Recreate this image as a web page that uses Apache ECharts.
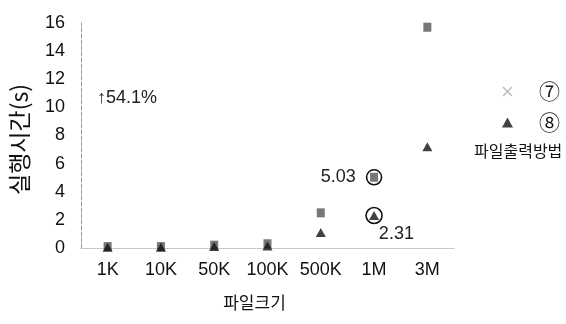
<!DOCTYPE html>
<html>
<head>
<meta charset="utf-8">
<script src="https://cdn.jsdelivr.net/npm/echarts@6/dist/echarts.min.js"></script>
<style>
  html, body { margin: 0; padding: 0; background: #fff; }
  #chart { width: 566px; height: 324px; }
</style>
</head>
<body>
<div id="chart"></div>
<script>
// File sizes on the x axis
const categories = ['1K', '10K', '50K', '100K', '500K', '1M', '3M'];
// Execution time (s) for output method ⑦
const method7 = [0.1, 0.1, 0.2, 0.3, 2.5, 5.03, 15.7];
// Execution time (s) for output method ⑧
const method8 = [0.05, 0.05, 0.1, 0.15, 1.1, 2.31, 7.2];
// Y axis range
const yMin = 0, yMax = 16, yStep = 2;

const sans = '"Liberation Sans", Arial, "Noto Sans CJK KR", sans-serif';
const narrow = '"Liberation Sans Narrow", "Liberation Sans", "Noto Sans CJK KR", sans-serif';
const kr = '"Noto Sans CJK KR", "Liberation Sans", sans-serif';

const chart = echarts.init(document.getElementById('chart'), null, { renderer: 'canvas' });

const ringStyle = { color: 'rgba(0,0,0,0)', borderColor: '#111', borderWidth: 1.6 };

chart.setOption({
  animation: false,
  backgroundColor: '#fff',
  grid: { left: 78, right: 112, top: 23, bottom: 76 },
  legend: {
    orient: 'vertical',
    left: 497,
    top: 76,
    itemWidth: 11,
    itemHeight: 10,
    itemGap: 10,
    data: [
      { name: '⑦', icon: 'path://M0,9 L1,10 L10,1 L9,0 Z M0,1 L9,10 L10,9 L1,0 Z', itemStyle: { color: '#aaa' } },
      { name: '⑧', icon: 'triangle', itemStyle: { color: '#111' } }
    ],
    textStyle: { fontFamily: kr, fontSize: 21, color: '#111', padding: [0, 0, 0, 21] }
  },
  graphic: [
    {
      type: 'text', left: 97, top: 89,
      style: { text: '↑54.1%', fontFamily: narrow, fontSize: 18, fill: '#222' }
    },
    {
      type: 'text', left: 474, top: 143,
      style: { text: '파일출력방법', fontFamily: kr, fontSize: 16, fill: '#111' }
    }
  ],
  xAxis: {
    type: 'category',
    data: categories,
    boundaryGap: true,
    name: '파일크기',
    nameLocation: 'middle',
    nameGap: 46,
    nameTextStyle: { fontFamily: kr, fontSize: 17, color: '#111', padding: [0, 26, 0, 0] },
    axisLine: { show: true, lineStyle: { color: '#bbb', type: 'dotted', width: 1 } },
    axisTick: { show: false },
    axisLabel: { interval: 0, hideOverlap: false, fontFamily: sans, fontSize: 18, color: '#111', margin: 13 },
    splitLine: { show: false }
  },
  yAxis: {
    type: 'value',
    min: yMin,
    max: yMax,
    interval: yStep,
    name: '실행시간(s)',
    nameLocation: 'middle',
    nameGap: 50,
    nameTextStyle: { fontFamily: kr, fontSize: 23, color: '#111', padding: [0, 8, 0, 0] },
    axisLine: { show: true, lineStyle: { color: '#999', type: 'dashed', width: 1 } },
    axisTick: { show: false },
    axisLabel: { fontFamily: sans, fontSize: 18, color: '#111', margin: 16 },
    splitLine: { show: false }
  },
  series: [
    {
      name: '⑦',
      type: 'scatter',
      data: method7,
      symbol: 'rect',
      symbolSize: [8, 9],
      itemStyle: { color: '#555' },
      z: 2,
      markPoint: {
        symbol: 'circle',
        symbolSize: 15,
        itemStyle: ringStyle,
        data: [{ coord: [categories[5], method7[5]], value: method7[5] }],
        label: {
          show: true, position: 'left', distance: 10,
          fontFamily: narrow, fontSize: 18, color: '#222',
          formatter: p => p.value.toFixed(2)
        }
      }
    },
    {
      name: '⑧',
      type: 'scatter',
      data: method8,
      symbol: 'triangle',
      symbolSize: [10, 9],
      itemStyle: { color: '#111' },
      z: 3,
      markPoint: {
        symbol: 'circle',
        symbolSize: 16,
        itemStyle: ringStyle,
        data: [{ coord: [categories[5], method8[5]], value: method8[5] }],
        label: {
          show: true, position: 'right', distance: -4, offset: [0, 19],
          fontFamily: narrow, fontSize: 18, color: '#222',
          formatter: p => p.value.toFixed(2)
        }
      }
    }
  ]
});
</script>
</body>
</html>
